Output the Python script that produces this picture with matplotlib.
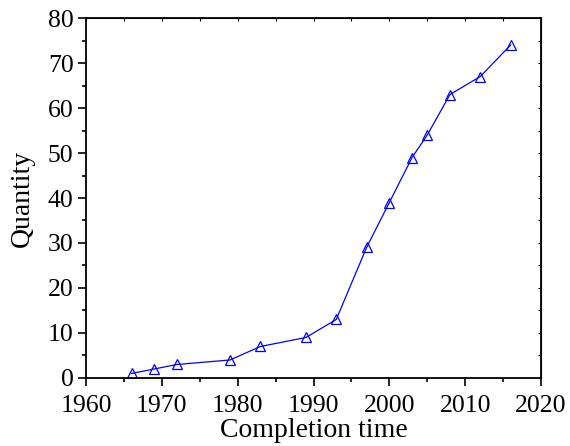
import matplotlib
matplotlib.use("Agg")
import matplotlib.pyplot as plt
from matplotlib.ticker import MultipleLocator

years = [1966, 1969, 1972, 1979, 1983, 1989, 1993, 1997, 2000, 2003, 2005, 2008, 2012, 2016]
quantity = [1, 2, 3, 4, 7, 9, 13, 29, 39, 49, 54, 63, 67, 74]

plt.rcParams["font.family"] = ["Liberation Serif", "DejaVu Serif"]
plt.rcParams["font.size"] = 18.5

fig = plt.figure(figsize=(5.7, 4.46), dpi=100)
ax = fig.add_axes([0.1509, 0.1525, 0.7982, 0.8071])

ax.plot(years, quantity, color="#0000ff", lw=0.9, marker="^", markersize=7,
        markerfacecolor="none", markeredgecolor="#0000ff", markeredgewidth=0.9)

ax.set_xlim(1960, 2020)
ax.set_ylim(0, 80)
ax.xaxis.set_major_locator(MultipleLocator(10))
ax.xaxis.set_minor_locator(MultipleLocator(5))
ax.yaxis.set_major_locator(MultipleLocator(10))
ax.yaxis.set_minor_locator(MultipleLocator(5))
ax.tick_params(which="both", direction="out", width=1.2, top=False, right=False)
ax.tick_params(which="major", length=6)
ax.tick_params(which="minor", length=3)
ax.tick_params(axis="x", which="major", pad=6)
ax.tick_params(axis="y", which="major", pad=3)
for s in ax.spines.values():
    s.set_linewidth(1.3)

# short inward ticks on the top and right frame
top = ax.secondary_xaxis("top")
top.xaxis.set_major_locator(MultipleLocator(5))
top.tick_params(direction="in", length=2.5, width=0.8, labeltop=False)
right = ax.secondary_yaxis("right")
right.yaxis.set_major_locator(MultipleLocator(5))
right.tick_params(direction="in", length=2.5, width=0.8, labelright=False)

ax.set_xlabel("Completion time", fontsize=20, labelpad=1)
ax.set_ylabel("Quantity", fontsize=20, labelpad=9)

fig.savefig("out.png", dpi=100)
